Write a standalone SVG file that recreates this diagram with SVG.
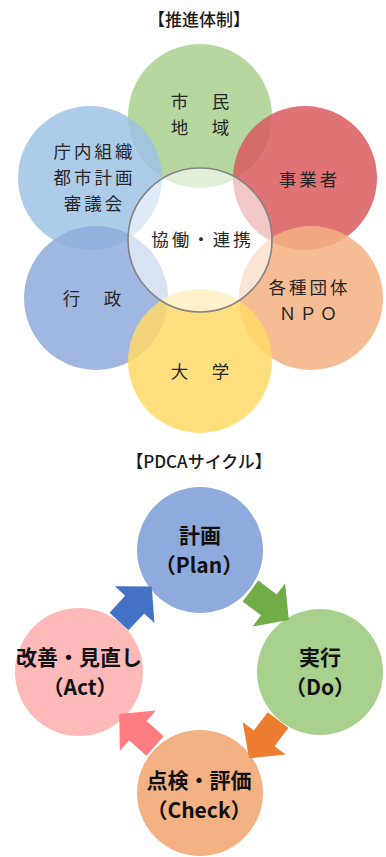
<svg xmlns="http://www.w3.org/2000/svg" width="386" height="857" viewBox="0 0 386 857">
<style>
.bg{fill:#ffffff}
.petal{opacity:0.85}
.lbl{font-family:"Noto Sans CJK JP","Noto Sans",sans-serif;font-size:17.5px;letter-spacing:3px;fill:#262626;text-anchor:middle}
.title{font-family:"Noto Sans CJK JP","Noto Sans",sans-serif;font-size:17px;font-weight:500;fill:#1a1a1a;text-anchor:middle}
.pd{font-family:"Noto Sans CJK JP","Noto Sans",sans-serif;font-size:21px;font-weight:700;fill:#111;text-anchor:middle}
.center{fill:#ffffff;fill-opacity:0.6;stroke:#858585;stroke-width:1.6}
</style>
<defs>
<path id="blk" d="M0,-13 H23 V-27 L48,0 L23,27 V13 H0 Z"/>
</defs>
<rect class="bg" x="0" y="0" width="386" height="857"/>
<text class="title" x="199" y="26">【推進体制】</text>

<g id="shimin">
<circle class="petal" cx="200" cy="116" r="72" fill="#a9d18e"/>
</g>
<g id="chonai">
<circle class="petal" cx="90" cy="178" r="72" fill="#9dc3e6"/>
</g>
<g id="jigyosha">
<circle class="petal" cx="305" cy="178" r="72" fill="#d95b5e"/>
</g>
<g id="gyosei">
<circle class="petal" cx="96" cy="298" r="72" fill="#8faadc"/>
</g>
<g id="dantai">
<circle class="petal" cx="311" cy="298" r="72" fill="#f4b183"/>
</g>
<g id="daigaku">
<circle class="petal" cx="200" cy="361" r="72" fill="#ffd966"/>
</g>
<g id="kyodo">
<circle class="center" cx="200" cy="240" r="72"/>
</g>

<g id="flower-labels">
<text class="lbl" x="201.5" y="108">市　民</text>
<text class="lbl" x="201.5" y="134">地　域</text>
<text class="lbl" x="94.5" y="158">庁内組織</text>
<text class="lbl" x="94.5" y="184">都市計画</text>
<text class="lbl" x="94.5" y="210">審議会</text>
<text class="lbl" x="309.5" y="186">事業者</text>
<text class="lbl" x="202.5" y="246">協働・連携</text>
<text class="lbl" x="93.5" y="305">行　政</text>
<text class="lbl" x="309.5" y="294">各種団体</text>
<text class="lbl" x="309.5" y="320">ＮＰＯ</text>
<text class="lbl" x="201.5" y="378">大　学</text>
</g>

<text class="title" x="199" y="468">【PDCAサイクル】</text>

<g id="plan">
<circle cx="200" cy="550" r="63" fill="#8faadc"/>
<text class="pd" x="200" y="543">計画</text>
<text class="pd" x="199" y="573">（Plan）</text>
</g>
<g id="do">
<circle cx="320" cy="672" r="63" fill="#a9d18e"/>
<text class="pd" x="320" y="665">実行</text>
<text class="pd" x="320" y="695">（Do）</text>
</g>
<g id="check">
<circle cx="200" cy="793" r="63" fill="#f4b183"/>
<text class="pd" x="199" y="788">点検・評価</text>
<text class="pd" x="199" y="818">（Check）</text>
</g>
<g id="act">
<circle cx="79" cy="672" r="64" fill="#ffb9b9"/>
<text class="pd" x="79" y="665">改善・見直し</text>
<text class="pd" x="80" y="695">（Act）</text>
</g>

<g id="connectors">
<use href="#blk" fill="#4472c4" transform="translate(119,621.5) rotate(-47)"/>
<use href="#blk" fill="#70ad47" transform="translate(250.5,591) rotate(37)"/>
<use href="#blk" fill="#ed7d31" transform="translate(278,720) rotate(127)"/>
<use href="#blk" fill="#ff7c80" transform="translate(155,746) rotate(-138)"/>
</g>
</svg>
